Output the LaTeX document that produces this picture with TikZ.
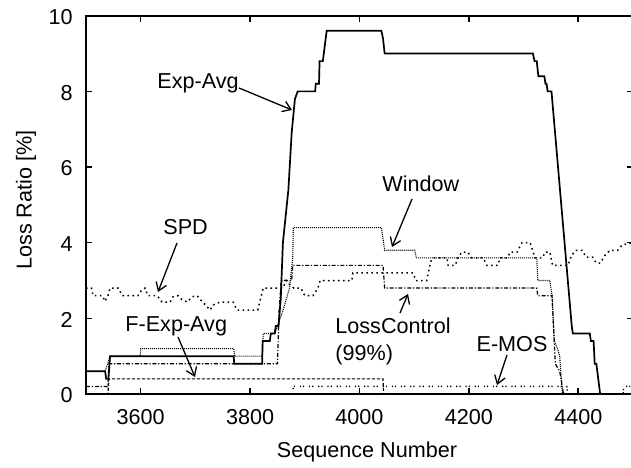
\documentclass[tikz,border=0pt]{standalone}
\usepackage{fontspec}
\setmainfont{Liberation Sans}
\usetikzlibrary{arrows.meta}
\begin{document}
\begin{tikzpicture}[x=0.5pt,y=-0.5pt,
  lbl/.style={font=\fontsize{10.8}{13}\selectfont, inner sep=0pt},
  ptr/.style={line width=0.65pt, -{Straight Barb[length=4pt,width=5.5pt]}},
  axisln/.style={line width=0.8pt},
  expavg/.style={line width=0.85pt, line join=miter},
  window/.style={line width=0.55pt, dash pattern=on 0.5pt off 0.5pt},
  spd/.style={line width=0.75pt, dash pattern=on 0.8pt off 1.7pt},
  lossctl/.style={line width=0.6pt, dash pattern=on 2pt off 0.9pt on 0.6pt off 0.9pt},
  fexp/.style={line width=0.6pt, dash pattern=on 1.6pt off 0.9pt},
  emos/.style={line width=0.7pt, dash pattern=on 0.6pt off 1pt on 0.6pt off 2.4pt}]
\useasboundingbox (0,0) rectangle (631,467);

\begin{scope}[shift={(-1828.5,394)}, x=0.2735pt, y=18.915pt]
  % curves
  \draw[spd] plot coordinates {(3500,2.8) (3510,2.8) (3513,2.6) (3530,2.6) (3535,2.45) (3540,2.6) (3544,2.8) (3559,2.8) (3566,2.6) (3595,2.6) (3602,2.75) (3608,2.8) (3613,2.6) (3630,2.6) (3639,2.43) (3654,2.43) (3659,2.57) (3668,2.6) (3675,2.5) (3685,2.43) (3694,2.57) (3703,2.6) (3712,2.45) (3727,2.22) (3732,2.35) (3745,2.43) (3769,2.43) (3776,2.22) (3814,2.22) (3824,2.8) (3860,2.8) (3866,3.0) (3872,2.9) (3880,2.8) (3893,2.8) (3900,2.6) (3915,2.6) (3924,2.8) (3928,3.0) (3986,3.0) (3988,3.2) (4098,3.2) (4103,3.0) (4123,3.0) (4130,3.5) (4135,3.6) (4160,3.6) (4162,3.4) (4175,3.4) (4180,3.6) (4187,3.75) (4198,3.75) (4205,3.6) (4226,3.6) (4233,3.4) (4253,3.4) (4257,3.6) (4271,3.6) (4275,3.75) (4288,3.75) (4297,4.0) (4312,4.0) (4321,3.6) (4335,3.6) (4339,3.75) (4348,3.75) (4353,3.4) (4381,3.4) (4388,3.67) (4396,3.8) (4407,3.8) (4414,3.62) (4426,3.62) (4433,3.46) (4440,3.46) (4449,3.67) (4458,3.8) (4472,3.8) (4480,3.94) (4500,4.0)};
  \draw[window] plot coordinates {(3500,0.6) (3535,0.6) (3544,1.0) (3599,1.0) (3600,1.2) (3770,1.2) (3772,1.0) (3822,1.0) (3824,1.6) (3845,1.6) (3860,2.2) (3872,2.8) (3878,3.6) (3879,4.4) (4040,4.4) (4046,3.8) (4101,3.8) (4104,3.6) (4324,3.6) (4326,3.0) (4348,3.0) (4352,2.6) (4356,1.4) (4362,1.2) (4366,1.0) (4369,0.4) (4371,0) (4500,0)};
  \draw[lossctl] plot coordinates {(3500,0.2) (3540,0.2) (3542,0.8) (3850,0.8) (3853,2.2) (3857,3.0) (3876,3.0) (3878,3.4) (4043,3.4) (4046,2.8) (4324,2.8) (4326,2.6) (4352,2.6) (4358,0.8) (4366,0.6) (4373,0) (4500,0)};
  \draw[fexp] plot coordinates {(3500,0) (3540,0) (3542,0.4) (4043,0.4) (4044,0) (4500,0)};
  \draw[emos] plot coordinates {(3500,0) (3878,0) (3879,0.2) (4379,0.2) (4380,0) (4482,0) (4483,0.2) (4500,0.2)};
  \draw[expavg] plot coordinates {(3500,0.6) (3535,0.6) (3537,0.4) (3541,0.4) (3544,1.0) (3770,1.0) (3771,0.8) (3822,0.8) (3823,1.4) (3836,1.4) (3838,1.6) (3845,1.6) (3847,1.8) (3852,1.8) (3856,2.5) (3860,4.0) (3870,5.4) (3876,6.9) (3882,7.8) (3887,8.0) (3919,8.0) (3920,8.2) (3926,8.2) (3927,8.8) (3933,8.8) (3940,9.6) (4040,9.6) (4043,9.4) (4046,9.0) (4317,9.0) (4320,8.8) (4324,8.8) (4327,8.4) (4338,8.4) (4340,8.2) (4342,8.2) (4344,8.0) (4351,8.0) (4388,1.8) (4390,1.6) (4421,1.6) (4423,1.4) (4428,1.4) (4430,0.8) (4433,0.8) (4440,0) (4500,0)};

  % frame and ticks
  \draw[axisln] (3500,0) rectangle (4500,10);
  \foreach \v in {2,4,6,8} {
    \draw[axisln] (3500,\v) -- ++(3pt,0);
    \draw[axisln] (4500,\v) -- ++(-3pt,0);
  }
  \foreach \v in {0,2,4,6,8,10} {
    \node[lbl, anchor=east] (yl\v) at ([xshift=-6.5pt,yshift=-0.75pt]3500,\v) {\v};
  }
  \foreach \u in {3600,3800,4000,4200,4400} {
    \draw[axisln] (\u,0) -- ++(0,3pt);
    \draw[axisln] (\u,10) -- ++(0,-3pt);
    \node[lbl, anchor=base] (xl\u) at ([yshift=-15pt]\u,0) {\u};
  }
\end{scope}

% axis titles
\node[lbl, rotate=90] (ytitle) at (26,200) {Loss Ratio [\%]};
\node[lbl, anchor=base] (xtitle) at (367,457) {Sequence Number};

% curve labels
\node[lbl, anchor=base west] (expLbl) at (157,88) {Exp-Avg};
\node[lbl, anchor=base west] (spdLbl) at (163,234) {SPD};
\node[lbl, anchor=base west] (fexpLbl) at (125,331) {F-Exp-Avg};
\node[lbl, anchor=base west] (winLbl) at (382,191) {Window};
\node[lbl, anchor=base west] (lossLbl) at (335,333) {LossControl};
\node[lbl, anchor=base west] (lossPct) at (335,360) {(99\%)};
\node[lbl, anchor=base] (emosLbl) at (512,351) {E-MOS};

% arrow tips
\coordinate (expTip) at (292,110);
\coordinate (spdTip) at (158,292);
\coordinate (fexpTip) at (195,377);
\coordinate (winTip) at (392,247);
\coordinate (lossTip) at (408,294);
\coordinate (emosTip) at (497,385);

\draw[ptr] (expLbl.base east) -- (expTip);
\draw[ptr] ([shift={(14,9)}]spdLbl.base west) -- (spdTip);
\draw[ptr] ([shift={(53,6)}]fexpLbl.base west) -- (fexpTip);
\draw[ptr] ([shift={(30,8)}]winLbl.base west) -- (winTip);
\draw[ptr] ([shift={(65,-20)}]lossLbl.base west) -- (lossTip);
\draw[ptr] ([shift={(-5,4)}]emosLbl.base) -- (emosTip);
\end{tikzpicture}
\end{document}
